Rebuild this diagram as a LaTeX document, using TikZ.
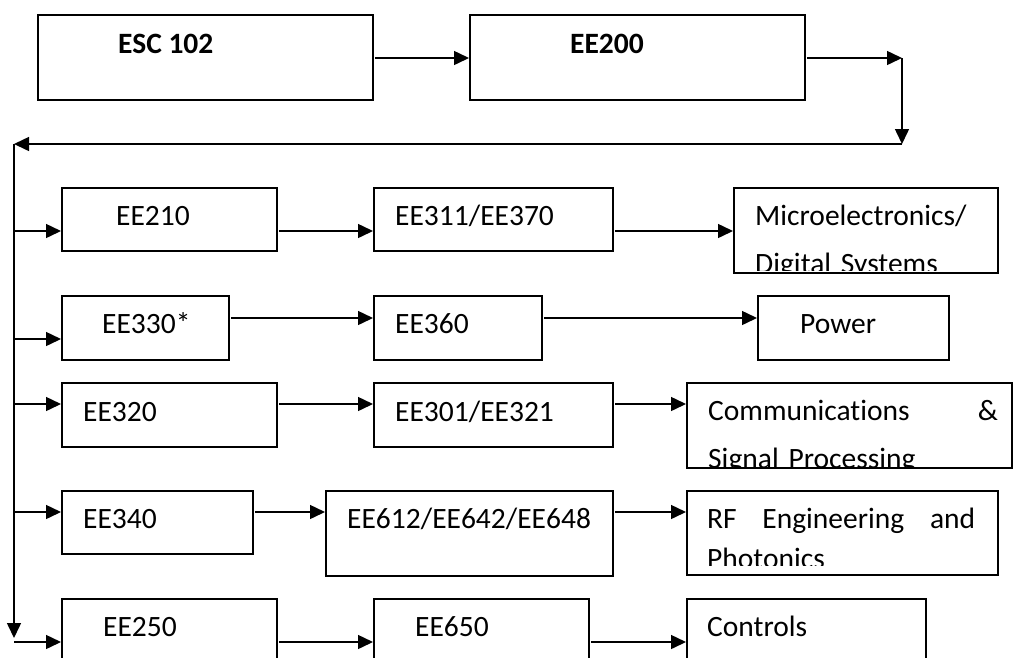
\documentclass[tikz,border=0pt]{standalone}
\usepackage{fontspec}
\setmainfont{Carlito}[Ligatures=NoCommon]
\usetikzlibrary{arrows.meta,positioning}
\tikzset{
course/.style 2 args={
  draw,
  line width=1.5pt,
  anchor=north west,
  inner sep=0pt,
  minimum width=#1pt,
  minimum height=#2pt
  },
txt/.style={
  anchor=base west,
  inner sep=0pt,
  font=\fontsize{29.5pt}{48pt}\selectfont
  },
arr/.style={
  -{Triangle[length=15pt,width=14pt]},
  line width=1.5pt,
  shorten <=1.5pt
  }
}

\begin{document}
\begin{tikzpicture}[x=1pt,y=-1pt]
\clip (0,0) rectangle (1013,657);

\node[course={335}{85}] (esc) at (37,14) {};
\node[course={335}{85}] (ee200) at (469,14) {};
\node[txt,font=\fontsize{29.5pt}{34pt}\selectfont\bfseries] (tesc) at (118,53) {ESC 102};
\node[txt,font=\fontsize{29.5pt}{34pt}\selectfont\bfseries] (tee200) at (570,53) {EE200};

\node[course={215}{63}] (ee210) at (61,187) {};
\node[course={239}{63}] (ee311) at (373,187) {};
\node[course={264}{85}] (micro) at (733,187) {};
\node[txt] (tee210) at (116,225) {EE210};
\node[txt] (tee311) at (395,225) {EE311/EE370};
\begin{scope}
\clip (micro.north west) rectangle ([yshift=3pt]micro.south east);
\node[txt,text width=230pt,align=left] (tmicro) at (755,225) {Microelectronics/\\Digital Systems};
\end{scope}

\node[course={167}{64}] (ee330) at (61,295) {};
\node[course={168}{64}] (ee360) at (373,295) {};
\node[course={191}{64}] (power) at (757,295) {};
\node[txt] (tee330) at (102,333) {EE330*};
\node[txt] (tee360) at (395,333) {EE360};
\node[txt] (tpower) at (800,333) {Power};

\node[course={215}{64}] (ee320) at (61,382) {};
\node[course={239}{64}] (ee301) at (373,382) {};
\node[course={325}{85}] (comm) at (686,382) {};
\node[txt] (tee320) at (83,421) {EE320};
\node[txt] (tee301) at (395,421) {EE301/EE321};
\begin{scope}
\clip (comm.north west) rectangle ([yshift=2pt]comm.south east);
\node[txt,text width=290pt,align=left] (tcomm) at (708,420) {Communications \hfill \&\\Signal Processing};
\end{scope}

\node[course={191}{63}] (ee340) at (61,490) {};
\node[course={287}{85}] (ee612) at (325,490) {};
\node[course={311}{84}] (rf) at (686,490) {};
\node[txt] (tee340) at (83,528) {EE340};
\node[txt] (tee612) at (347,528) {EE612/EE642/EE648};
\begin{scope}
\clip (rf.north west) rectangle ([yshift=10pt]rf.south east);
\node[txt,text width=268pt,align=left,font=\fontsize{29.5pt}{40pt}\selectfont] (trf) at (707,528) {RF \hfill Engineering \hfill and\\Photonics};
\end{scope}

\node[course={215}{80}] (ee250) at (61,598) {};
\node[course={215}{80}] (ee650) at (373,598) {};
\node[course={239}{80}] (controls) at (686,598) {};
\node[txt] (tee250) at (103,636) {EE250};
\node[txt] (tee650) at (415,636) {EE650};
\node[txt] (tcontrols) at (707,636) {Controls};

\coordinate (turn) at (902,58);
\coordinate (back) at (902,144);
\coordinate (spine) at (14,144);
\coordinate (spineend) at (14,638);
\coordinate (r1) at (14,231);
\coordinate (r2) at (14,339);
\coordinate (r2b) at (14,318);
\coordinate (r3) at (14,404);
\coordinate (r4) at (14,512);
\coordinate (r5) at (14,642);

\draw[arr] (turn -| esc.east) -- (turn -| ee200.west);
\draw[arr] (turn -| ee200.east) -- (turn);
\draw[arr,shorten <=0pt] (turn) -- (back);
\draw[arr,shorten <=0pt] (back) -- (spine);
\draw[arr,shorten <=0pt] (spine) -- (spineend);

\draw[arr,shorten <=0pt] (r1) -- (r1 -| ee210.west);
\draw[arr] (r1 -| ee210.east) -- (r1 -| ee311.west);
\draw[arr] (r1 -| ee311.east) -- (r1 -| micro.west);

\draw[arr,shorten <=0pt] (r2) -- (r2 -| ee330.west);
\draw[arr] (r2b -| ee330.east) -- (r2b -| ee360.west);
\draw[arr] (r2b -| ee360.east) -- (r2b -| power.west);

\draw[arr,shorten <=0pt] (r3) -- (r3 -| ee320.west);
\draw[arr] (r3 -| ee320.east) -- (r3 -| ee301.west);
\draw[arr] (r3 -| ee301.east) -- (r3 -| comm.west);

\draw[arr,shorten <=0pt] (r4) -- (r4 -| ee340.west);
\draw[arr] (r4 -| ee340.east) -- (r4 -| ee612.west);
\draw[arr] (r4 -| ee612.east) -- (r4 -| rf.west);

\draw[arr,shorten <=0pt] (r5) -- (r5 -| ee250.west);
\draw[arr] (r5 -| ee250.east) -- (r5 -| ee650.west);
\draw[arr] (r5 -| ee650.east) -- (r5 -| controls.west);

\end{tikzpicture}
\end{document}
